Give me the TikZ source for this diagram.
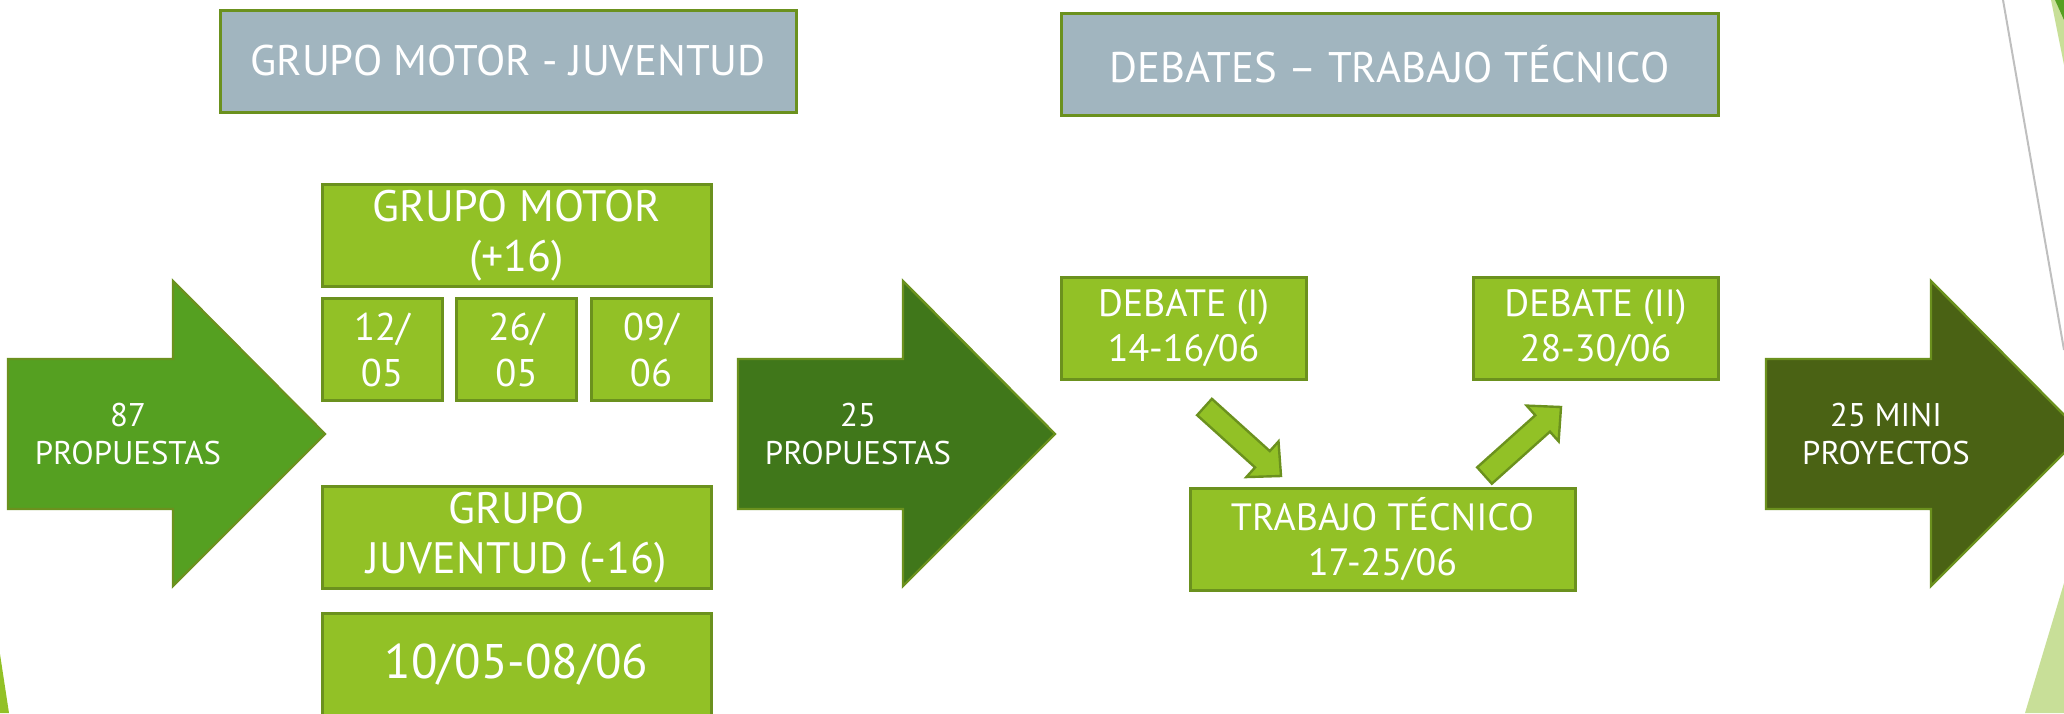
\documentclass[tikz,border=0pt]{standalone}
\usepackage{fontspec}
\setmainfont{PT Sans}
\usepackage{xcolor}
\usetikzlibrary{positioning}
\usetikzlibrary{calc}

\definecolor{gris}{HTML}{A1B5BF}
\definecolor{lima}{HTML}{92C126}
\definecolor{borde}{HTML}{6B911E}
\definecolor{verdeA}{HTML}{55A021}
\definecolor{verdeB}{HTML}{40771A}
\definecolor{verdeC}{HTML}{4A6214}
\definecolor{claro}{HTML}{C8DF98}
\definecolor{linea}{HTML}{BFBFBF}

\tikzset{
  titulo/.style={draw=borde, fill=gris, line width=1.5pt, minimum height=51pt, outer sep=0pt, inner sep=0pt, text=white, font=\fontsize{21.4}{25}\selectfont},
  caja/.style={draw=borde, fill=lima, line width=1.5pt, minimum height=51pt, outer sep=0pt, inner sep=0pt, text=white, align=center, font=\fontsize{22}{25}\selectfont},
  dia/.style={caja, minimum width=60pt, font=\fontsize{19.3}{23}\selectfont},
  debate/.style={caja, font=\fontsize{19}{22.5}\selectfont},
  flecha/.style={draw=borde, line width=1.2pt, line join=miter},
  flechatexto/.style={text=white, align=center, inner sep=0pt, font=\fontsize{16.4}{19}\selectfont},
  flechita/.style={draw=borde, fill=lima, line width=1.2pt, line join=miter}
}

% flecha de bloque pequena, de #1 a #2
\newcommand{\bloque}[2]{%
  \coordinate (basebloque) at ($(#1)!39pt!(#2)$);
  \draw[flechita] ($(#1)!5.5pt!90:(#2)$) -- ($(basebloque)!5.5pt!90:(#2)$) -- ($(basebloque)!12pt!90:(#2)$) -- (#2)
    -- ($(basebloque)!12pt!-90:(#2)$) -- ($(basebloque)!5.5pt!-90:(#2)$) -- ($(#1)!5.5pt!-90:(#2)$) -- cycle;
}

\begin{document}
\begin{tikzpicture}[x=0.5pt, y=-0.5pt]
  \useasboundingbox (0,0) rectangle (2064,713);
  \clip (0,0) rectangle (2064,713);

  % adornos del borde
  \fill[claro] (2051,0) -- (2064,0) -- (2064,65) -- cycle;
  \fill[verdeA] (2055,0) -- (2064,0) -- (2064,20) -- cycle;
  \draw[linea, line width=1pt] (2003,0) -- (2064,350);
  \fill[claro] (2025,713) -- (2064,583) -- (2064,713) -- cycle;
  \fill[lima] (0,654) -- (9,713) -- (0,713) -- cycle;

  % titulos
  \node[titulo, minimum width=288pt] (tituloA) at (508,61) {GRUPO MOTOR - JUVENTUD};
  \node[titulo, minimum width=328.5pt] (tituloB) at (1389.5,64) {DEBATES – TRABAJO TÉCNICO};

  % flechas grandes
  \foreach \x/\col/\nombre/\txt in {8/verdeA/flechaA/{87\\PROPUESTAS}, 738/verdeB/flechaB/{25\\PROPUESTAS}, 1766/verdeC/flechaC/{25 MINI\\PROYECTOS}} {
    \draw[flecha, fill=\col] (\x,359) -- ++(165,0) -- ++(0,-78) -- ++(152,153) -- ++(-152,152) -- ++(0,-77) -- ++(-165,0) -- cycle;
    \node[flechatexto] (\nombre) at (\x+120,434) {\txt};
  }

  % grupo motor y juventud
  \node[caja, minimum width=194.5pt] (motor) at (516.5,235.5) {GRUPO MOTOR\\(+16)};
  \node[dia, below right=6pt and 0pt of motor.south west] (dia1) {12/\\05};
  \node[dia, right=7.25pt of dia1] (dia2) {26/\\05};
  \node[dia, right=7.25pt of dia2] (dia3) {09/\\06};
  \node[caja, minimum width=194.5pt] (juventud) at (516.5,537.5) {GRUPO\\JUVENTUD (-16)};
  \node[caja, minimum width=194.5pt, below=12.5pt of juventud, font=\fontsize{24.3}{28}\selectfont] (periodo) {10/05-08/06};

  % debates y trabajo tecnico
  \node[debate, minimum width=122.5pt] (debateA) at (1183.5,328) {DEBATE (I)\\14-16/06};
  \node[debate, minimum width=122.5pt] (debateB) at (1595.5,328) {DEBATE (II)\\28-30/06};
  \node[debate, minimum width=192.5pt] (trabajo) at (1382.5,539) {TRABAJO TÉCNICO\\17-25/06};

  \coordinate (colaA) at ([shift={(21,28)}]debateA.south);
  \coordinate (puntaA) at ([shift={(91,-12)}]trabajo.north west);
  \coordinate (colaB) at ([shift={(-90.5,-12.5)}]trabajo.north east);
  \coordinate (puntaB) at ([shift={(-34.5,28)}]debateB.south);
  \bloque{colaA}{puntaA}
  \bloque{colaB}{puntaB}
\end{tikzpicture}
\end{document}
